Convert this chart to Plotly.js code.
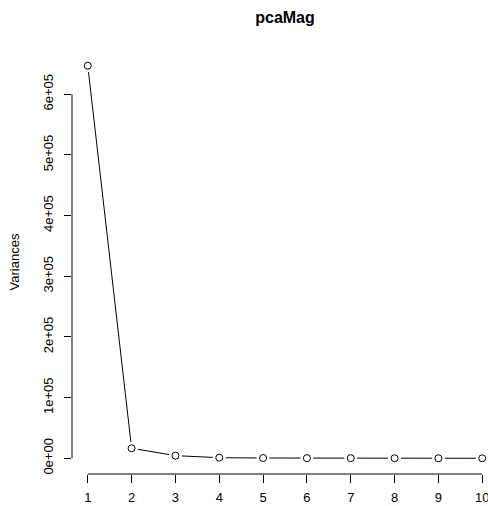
<!DOCTYPE html>
<html>
<head>
<meta charset="utf-8">
<script src="https://cdn.plot.ly/plotly-3.0.1.min.js"></script>
<style>
html, body { margin: 0; padding: 0; overflow: hidden; background: #fff; }
#chart { width: 512px; height: 506px; }
</style>
</head>
<body>
<div id="chart"></div>
<script>
// Data
const components = [1, 2, 3, 4, 5, 6, 7, 8, 9, 10];
const variances = [647000, 16500, 4400, 1000, 450, 300, 200, 130, 80, 50];
const yTickVals = [0, 100000, 200000, 300000, 400000, 500000, 600000];
const yTickText = ["0e+00", "1e+05", "2e+05", "3e+05", "4e+05", "5e+05", "6e+05"];
const xTickVals = components;
const xTickText = ["1", "2", "3", "4", "5", "6", "7", "8", "9", "10"];
const chartTitle = "pcaMag";
const yTitle = "Variances";

// R-style 4% axis extension
const xmin = Math.min(...components), xmax = Math.max(...components);
const ymin = Math.min(0, ...variances), ymax = Math.max(...variances);
const xr = [xmin - 0.04 * (xmax - xmin), xmax + 0.04 * (xmax - xmin)];
const yr = [ymin - 0.04 * (ymax - ymin), ymax + 0.04 * (ymax - ymin)];

const font = { family: "Liberation Sans, Arial, sans-serif", size: 13, color: "#000" };

const traces = [
  { x: components, y: variances, type: "scatter", mode: "lines",
    line: { color: "#000", width: 1 }, hoverinfo: "skip", cliponaxis: false },
  { x: components, y: variances, type: "scatter", mode: "markers",
    marker: { symbol: "circle", size: 13, color: "#fff", line: { width: 0 } },
    hoverinfo: "skip", cliponaxis: false },
  { x: components, y: variances, type: "scatter", mode: "markers",
    marker: { symbol: "circle-open", size: 7, color: "#000", line: { width: 1, color: "#000" } },
    cliponaxis: false }
];

const layout = {
  width: 512, height: 506,
  margin: { l: 72, r: 14, t: 50, b: 32, pad: 0 },
  paper_bgcolor: "#fff", plot_bgcolor: "#fff",
  showlegend: false,
  font: font,
  title: { text: "<b>" + chartTitle + "</b>", font: { family: font.family, size: 16, color: "#000" },
           xref: "paper", x: 0.5, xanchor: "center", yref: "container", y: 1 - 17 / 506, yanchor: "middle" },
  xaxis: {
    range: xr, showgrid: false, zeroline: false, showline: false,
    tickmode: "array", tickvals: xTickVals, ticktext: xTickText,
    ticks: "outside", ticklen: 8, tickwidth: 1, tickcolor: "#000",
    ticklabelstandoff: 3, tickfont: font
  },
  yaxis: {
    range: yr, showgrid: false, zeroline: false, showline: false,
    tickmode: "array", tickvals: yTickVals, ticktext: yTickText,
    ticks: "outside", ticklen: 7, tickwidth: 1, tickcolor: "#000",
    tickangle: -90, ticklabelstandoff: 6, tickfont: font,
    title: { text: yTitle, font: font, standoff: 18 }
  },
  shapes: [
    { type: "line", xref: "x", yref: "paper", x0: xTickVals[0], x1: xTickVals[xTickVals.length - 1], y0: 0, y1: 0,
      line: { color: "#000", width: 1 } },
    { type: "line", xref: "paper", yref: "y", x0: 0, x1: 0, y0: yTickVals[0], y1: yTickVals[yTickVals.length - 1],
      line: { color: "#000", width: 1 } }
  ]
};

Plotly.newPlot("chart", traces, layout, { displayModeBar: false, staticPlot: true });
</script>
</body>
</html>
